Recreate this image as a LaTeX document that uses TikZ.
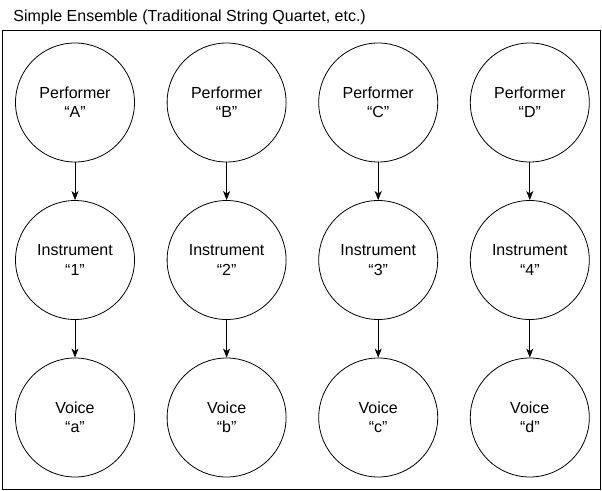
\documentclass[tikz,border=0pt]{standalone}
\usepackage{fontspec}
\setmainfont{Liberation Sans}
\usepackage{tikz}
\usetikzlibrary{positioning,arrows.meta}

\begin{document}
\begin{tikzpicture}[x=1pt, y=1pt,
                    >={Stealth[length=9pt, width=7pt, inset=2.5pt]},
                    every node/.style={font=\fontsize{16}{19.2}\selectfont},
                    circ/.style={draw, circle, minimum size=119pt, inner sep=0pt, align=center},
                    every path/.style={line width=0.8pt}]
\useasboundingbox (0,0) rectangle (602,-490);
\node[draw, minimum width=598pt, minimum height=459pt, inner sep=0pt] (frame) at (301,-259.5) {};
\node[anchor=base west, inner sep=0pt] (title) at (13,-21) {Simple Ensemble (Traditional String Quartet, etc.)};
% performers
\node[circ] (perfA) at (75,-102.5) {Performer\\“A”};
\node[circ, right=31.8pt of perfA] (perfB) {Performer\\“B”};
\node[circ, right=31.8pt of perfB] (perfC) {Performer\\“C”};
\node[circ, right=31.8pt of perfC] (perfD) {Performer\\“D”};
% instruments
\node[circ, below=37.7pt of perfA] (inst1) {Instrument\\“1”};
\node[circ, below=37.7pt of perfB] (inst2) {Instrument\\“2”};
\node[circ, below=37.7pt of perfC] (inst3) {Instrument\\“3”};
\node[circ, below=37.7pt of perfD] (inst4) {Instrument\\“4”};
% voices
\node[circ, below=37.7pt of inst1] (voiceA) {Voice\\“a”};
\node[circ, below=37.7pt of inst2] (voiceB) {Voice\\“b”};
\node[circ, below=37.7pt of inst3] (voiceC) {Voice\\“c”};
\node[circ, below=37.7pt of inst4] (voiceD) {Voice\\“d”};
\draw[->] (perfA) -- (inst1);
\draw[->] (perfB) -- (inst2);
\draw[->] (perfC) -- (inst3);
\draw[->] (perfD) -- (inst4);
\draw[->] (inst1) -- (voiceA);
\draw[->] (inst2) -- (voiceB);
\draw[->] (inst3) -- (voiceC);
\draw[->] (inst4) -- (voiceD);
\end{tikzpicture}
\end{document}
